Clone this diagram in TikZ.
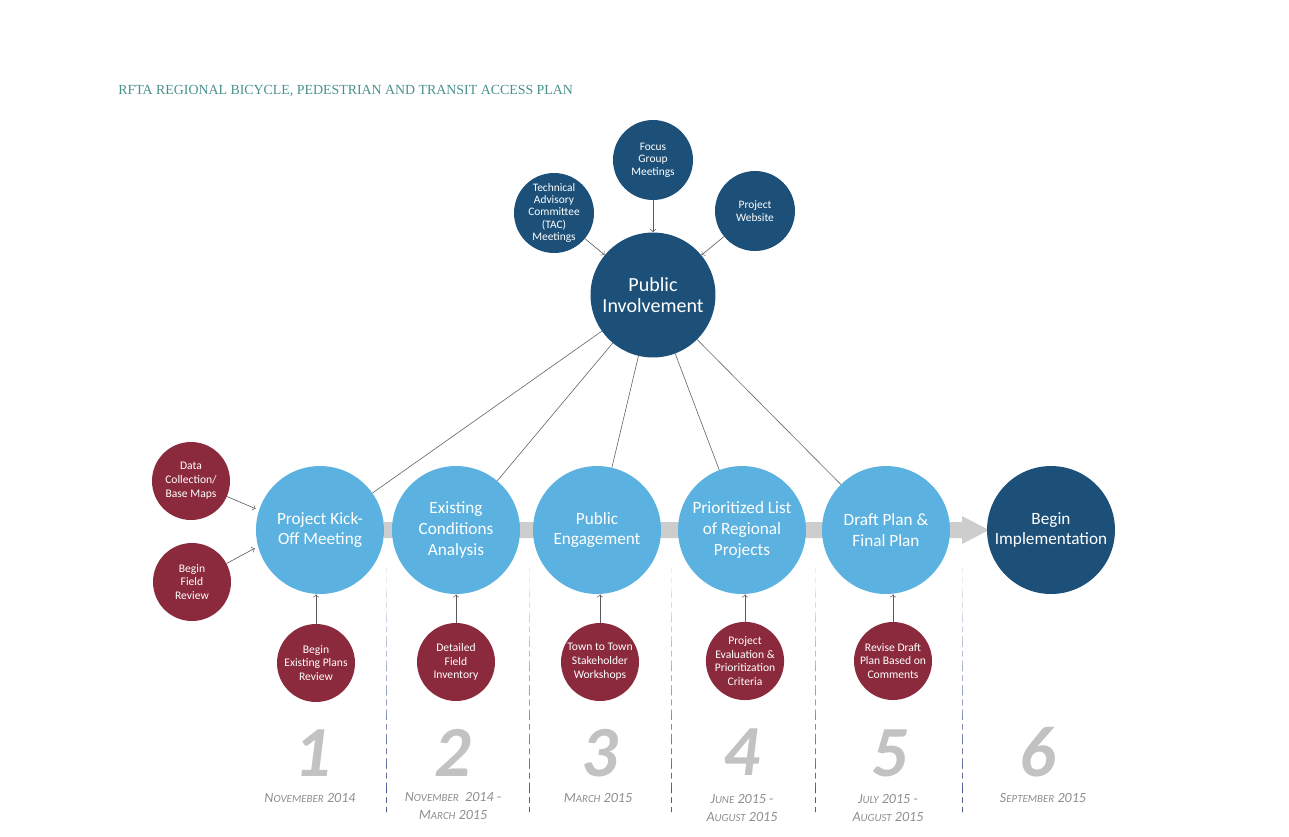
\documentclass[tikz,border=0pt]{standalone}
\usepackage{fontspec}
\setmainfont{Carlito}
\newfontfamily\titlefont{Liberation Serif}

\definecolor{stepblue}{HTML}{5BB2E0}
\definecolor{darkblue}{HTML}{1C5079}
\definecolor{wine}{HTML}{8A2A3C}
\definecolor{bandgray}{HTML}{CDCDCD}
\definecolor{numgray}{HTML}{C2C2C2}
\definecolor{dategray}{HTML}{8E8E8E}
\definecolor{titleteal}{HTML}{4A918D}
\definecolor{sepblue}{HTML}{3D4C85}

\tikzset{
  stepnode/.style={circle,fill=stepblue,text=white,minimum size=2.56cm,inner sep=0pt,align=center,font=\fontsize{9.8}{11.8}\selectfont},
  hubnode/.style={circle,fill=darkblue,text=white,minimum size=2.5cm,inner sep=0pt,align=center,font=\fontsize{11.4}{11.6}\selectfont},
  inputnode/.style={circle,fill=darkblue,text=white,minimum size=1.6cm,inner sep=0pt,align=center,font=\fontsize{6.5}{7.1}\selectfont},
  tasknode/.style={circle,fill=wine,text=white,minimum size=1.56cm,inner sep=0pt,align=center,font=\fontsize{6.6}{7.9}\selectfont},
  feed/.style={->,line width=0.35pt,draw=black!65},
  link/.style={line width=0.35pt,draw=black!60},
  bignum/.style={text=numgray,anchor=base,inner sep=0pt,font=\fontsize{41}{41}\selectfont\bfseries\itshape},
  datelbl/.style={text=dategray,align=center,inner sep=0pt,font=\fontsize{8}{10.2}\selectfont\itshape},
}
\newcommand{\dsc}[2]{#1{\fontsize{6.2}{7}\selectfont #2}}

\begin{document}
\begin{tikzpicture}[x=0.02cm,y=-0.02cm,line cap=round,line join=round]
  \useasboundingbox (0,0) rectangle (1289,836);
  % title
  \node[anchor=west,text=titleteal,font=\titlefont\fontsize{7.9}{9}\selectfont,inner sep=0pt] (title) at (118,91)
    {RFTA REGIONAL BICYCLE, PEDESTRIAN AND TRANSIT ACCESS PLAN};
  % grey time band with arrow head
  \fill[bandgray] (384,522) -- (962,522) -- (962,516) -- (989,530) -- (962,544) -- (962,538) -- (384,538) -- cycle;
  % separators, fading from grey to blue
  \foreach \x in {386,529,671,815,962} {
    \foreach \i in {0,...,9} {
      \pgfmathsetmacro{\pct}{10+9*\i}
      \draw[sepblue!\pct!white,line width=0.45pt,dash pattern=on 3pt off 2.6pt]
        (\x,568+\i*24.4) -- (\x,568+\i*24.4+24.4);
    }
  }
  % steps
  \node[stepnode] (ko) at (320,530) {Project Kick-\\Off Meeting};
  \node[stepnode] (ec) at (456,530) {Existing\\Conditions\\Analysis};
  \node[stepnode] (pe) at (597,530) {Public\\Engagement};
  \node[stepnode] (pl) at (742,530) {Prioritized List\\of Regional\\Projects};
  \node[stepnode] (dp) at (886,530) {Draft Plan \&\\Final Plan};
  \node[stepnode,fill=darkblue] (bi) at (1051,530) {Begin\\Implementation};
  % public involvement and its inputs
  \node[hubnode] (pi) at (653,295) {Public\\Involvement};
  \node[inputnode] (tac) at (554,213) {Technical\\Advisory\\Committee\\(TAC)\\Meetings};
  \node[inputnode] (fg) at (653,160) {Focus\\Group\\Meetings};
  \node[inputnode] (web) at (755,211) {Project\\Website};
  \draw[feed] (tac) -- (pi);
  \draw[feed] (fg) -- (pi);
  \draw[feed] (web) -- (pi);
  \foreach \s in {ko,ec,pe,pl,dp} {
    \draw[link] (pi) -- (\s);
  }
  % tasks
  \node[tasknode] (dc) at (191,481) {Data\\Collection/\\Base Maps};
  \node[tasknode] (fr) at (192,582) {Begin\\Field\\Review};
  \node[tasknode] (ep) at (316,663) {Begin\\Existing Plans\\Review};
  \node[tasknode] (fi) at (456,662) {Detailed\\Field\\Inventory};
  \node[tasknode] (tt) at (600,662) {Town to Town\\Stakeholder\\Workshops};
  \node[tasknode] (pc) at (745,661) {Project\\Evaluation \&\\Prioritization\\Criteria};
  \node[tasknode] (rd) at (893,661) {Revise Draft\\Plan Based on\\Comments};
  \draw[feed,shorten >=2pt] (dc) -- (ko.162);
  \draw[feed,shorten >=2pt] (fr) -- (ko.195);
  \draw[feed] (ep) -- (ko.south -| ep);
  \draw[feed] (fi) -- (ec);
  \draw[feed] (tt) -- (pe.south -| tt);
  \draw[feed] (pc) -- (pl.south -| pc);
  \draw[feed] (rd) -- (dp.south -| rd);
  % numbers and dates
  \node[bignum] (n1) at (313,776) {1};
  \node[bignum] (n2) at (453,776) {2};
  \node[bignum] (n3) at (600,776) {3};
  \node[bignum] (n4) at (742,775) {4};
  \node[bignum] (n5) at (890,776) {5};
  \node[bignum] (n6) at (1038,776) {6};
  \node[datelbl] (d1) at (310,798) {\dsc{N}{OVEMEBER} 2014};
  \node[datelbl,anchor=north] (d2) at (453,792) {\dsc{N}{OVEMBER}\ \ 2014 -\\\dsc{M}{ARCH} 2015};
  \node[datelbl] (d3) at (598,798) {\dsc{M}{ARCH} 2015};
  \node[datelbl,anchor=north] (d4) at (742,794) {\dsc{J}{UNE} 2015 -\\\dsc{A}{UGUST} 2015};
  \node[datelbl,anchor=north] (d5) at (888,794) {\dsc{J}{ULY} 2015 -\\\dsc{A}{UGUST} 2015};
  \node[datelbl] (d6) at (1043,798) {\dsc{S}{EPTEMBER} 2015};
\end{tikzpicture}
\end{document}
